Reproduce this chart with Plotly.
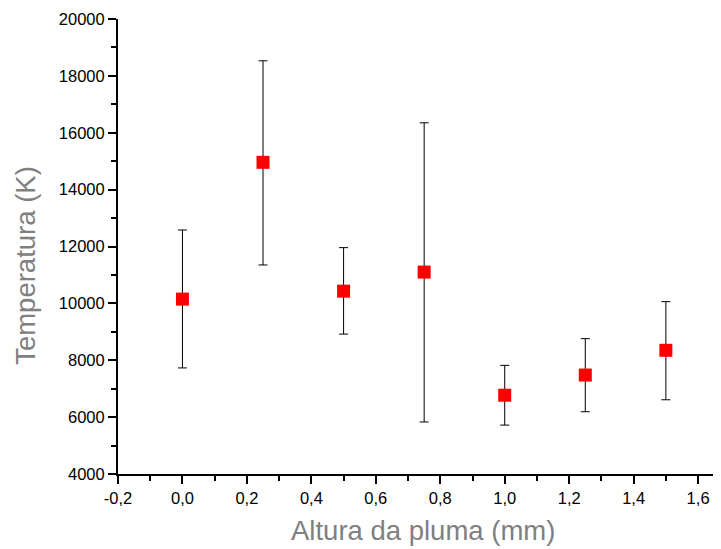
import plotly.graph_objects as go

# Data
altura = [0.0, 0.25, 0.5, 0.75, 1.0, 1.25, 1.5]
temperatura = [10150, 14960, 10430, 11100, 6770, 7480, 8350]
erro_sup = [12580, 18530, 11960, 16350, 7820, 8760, 10060]
erro_inf = [7730, 11350, 8920, 5830, 5720, 6190, 6610]

x_tickvals = [-0.2, 0.0, 0.2, 0.4, 0.6, 0.8, 1.0, 1.2, 1.4, 1.6]
x_ticktext = ["-0,2", "0,0", "0,2", "0,4", "0,6", "0,8", "1,0", "1,2", "1,4", "1,6"]
y_tickvals = [4000, 6000, 8000, 10000, 12000, 14000, 16000, 18000, 20000]
y_ticktext = ["4000", "6000", "8000", "10000", "12000", "14000", "16000", "18000", "20000"]

plus = [u - t for u, t in zip(erro_sup, temperatura)]
minus = [t - l for t, l in zip(temperatura, erro_inf)]

FONT = "Liberation Sans, Arial, sans-serif"

fig = go.Figure()
fig.add_trace(go.Scatter(
    x=altura, y=temperatura, mode="markers",
    marker=dict(symbol="square", size=13, color="#FF0000", line=dict(width=0)),
    error_y=dict(type="data", symmetric=False, array=plus, arrayminus=minus,
                 color="#000000", thickness=1, width=4.5),
    showlegend=False,
))

axis_common = dict(
    showgrid=False, zeroline=False, showline=True, linecolor="#000000", linewidth=2,
    ticks="outside", ticklen=8, tickwidth=2, tickcolor="#000000",
    tickfont=dict(family=FONT, size=16.5, color="#000000"),
)

fig.update_xaxes(
    range=[-0.2, 1.668], tickmode="array", tickvals=x_tickvals, ticktext=x_ticktext,
    minor=dict(dtick=0.1, tick0=0, ticks="outside", ticklen=5, tickwidth=2, tickcolor="#000000"),
    **axis_common,
)
fig.update_yaxes(
    range=[4000, 20000], tickmode="array", tickvals=y_tickvals, ticktext=y_ticktext,
    minor=dict(dtick=1000, tick0=0, ticks="outside", ticklen=5, tickwidth=2, tickcolor="#000000"),
    **axis_common,
)

fig.add_annotation(
    text="Altura da pluma (mm)", xref="paper", yref="paper", x=0.507, y=-0.125,
    xanchor="center", yanchor="middle", showarrow=False,
    font=dict(family=FONT, size=27.5, color="#808080"),
)
fig.add_annotation(
    text="Temperatura (K)", xref="paper", yref="paper", x=-0.155, y=0.459,
    xanchor="center", yanchor="middle", showarrow=False, textangle=-90,
    font=dict(family=FONT, size=27.5, color="#808080"),
)

# the page body adds an 8px offset, so the figure is sized to end at the window edge
fig.update_layout(
    width=713, height=541,
    margin=dict(l=110, r=1, t=11, b=75, pad=0),
    plot_bgcolor="white", paper_bgcolor="white",
    font=dict(family=FONT),
)

fig.write_html("out.html")
